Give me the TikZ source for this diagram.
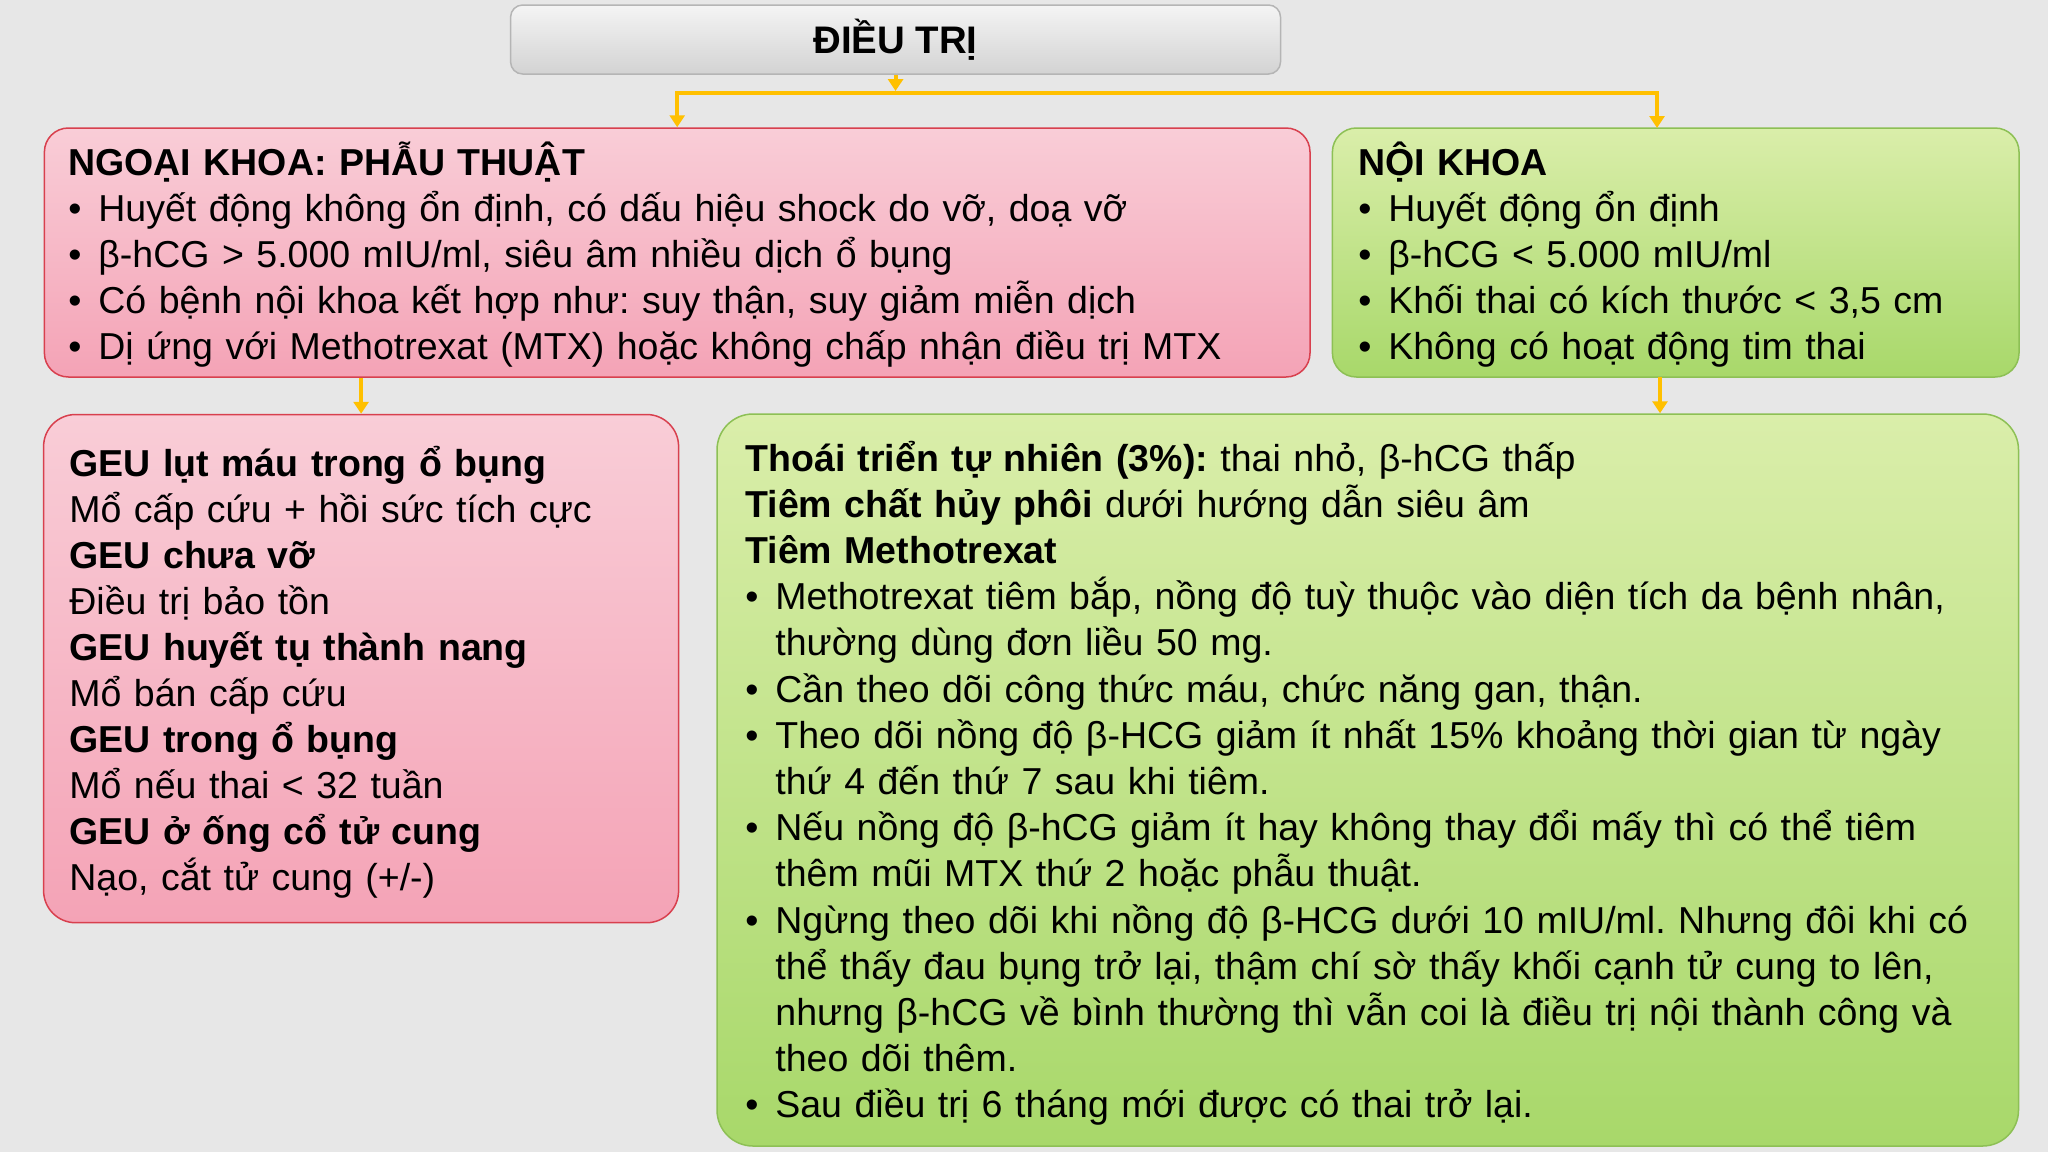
\documentclass[tikz,border=0pt]{standalone}
\usepackage{fontspec}
\setmainfont{Liberation Sans}
\usetikzlibrary{arrows.meta}
\definecolor{bgc}{HTML}{E7E7E7}
\definecolor{pinkT}{HTML}{F9CDD7}
\definecolor{pinkB}{HTML}{F4A3B6}
\definecolor{pinkD}{HTML}{D8404E}
\definecolor{grnT}{HTML}{DAEEAA}
\definecolor{grnB}{HTML}{A8D86A}
\definecolor{grnD}{HTML}{8DC055}
\definecolor{grayT}{HTML}{F4F4F4}
\definecolor{grayB}{HTML}{D3D3D3}
\definecolor{grayD}{HTML}{B5B5B5}
\definecolor{arr}{HTML}{FFC000}
\frenchspacing
\newcommand{\bul}{\makebox[15pt][l]{•}}
\newcommand{\cont}{\hspace*{15pt}}
\newcommand{\mytxtfont}{\fontsize{18.75}{23}\selectfont\frenchspacing\lineskiplimit=-100pt\relax\lineskip=0pt\relax}
\newcommand{\mytxtfontb}{\fontsize{18.75}{23.1}\selectfont\frenchspacing\lineskiplimit=-100pt\relax\lineskip=0pt\relax}
\newcommand{\mytitlefont}{\fontsize{19.2}{23}\selectfont\bfseries}
\begin{document}
\begin{tikzpicture}[x=0.5pt,y=-0.5pt,
  box/.style={rectangle, inner sep=0pt, line width=0.75pt},
  pinkbox/.style={box, draw=pinkD, top color=pinkT, bottom color=pinkB},
  grnbox/.style={box, draw=grnD, top color=grnT, bottom color=grnB},
  graybox/.style={box, draw=grayD, top color=grayT, bottom color=grayB, rounded corners=6pt},
  txt/.style={anchor=base west, inner sep=0pt, align=left, text width=#1, font=\mytxtfont},
  conn/.style={draw=arr, line width=2pt, -{Triangle[length=6pt,width=7.5pt]}},
]
\fill[bgc] (0,0) rectangle (2048,1152);
\useasboundingbox (0,0) rectangle (2048,1152);

% boxes
\node[graybox, minimum width=384.95pt, minimum height=34.5pt] (top) at (895.55,39.5) {};
\node[pinkbox, rounded corners=12pt, minimum width=632.8pt, minimum height=124.5pt] (ngoai) at (677.2,252.5) {};
\node[grnbox, rounded corners=12pt, minimum width=343.3pt, minimum height=124.5pt] (noi) at (1675.7,252.5) {};
\node[pinkbox, rounded corners=16pt, minimum width=317.5pt, minimum height=254.1pt] (geu) at (361.1,668.6) {};
\node[grnbox, rounded corners=18pt, minimum width=650.75pt, minimum height=366pt] (tiem) at (1367.75,780) {};

% title
\node[anchor=base, inner sep=0pt, font=\mytitlefont] (ttl) at (895.55,53.5) {ĐIỀU TRỊ};

% connectors
\coordinate (barM) at (895.55,92.5);
\coordinate (nTip) at (1657,128);
\coordinate (gdown) at (1660,377);
\draw[conn] (top.south) -- (895.55,91);
\draw[conn] (barM) -| (ngoai.north);
\draw[conn] (barM) -| (nTip);
\draw[conn] (geu.north |- ngoai.south) -- (geu.north);
\draw[conn] (gdown) -- (gdown |- tiem.north);

% texts
\node[txt=600pt] (t1) at (68,175) {\textbf{NGOẠI KHOA: PHẪU THUẬT}\\
\bul Huyết động không ổn định, có dấu hiệu shock do vỡ, doạ vỡ\\
\bul β-hCG > 5.000 mIU/ml, siêu âm nhiều dịch ổ bụng\\
\bul Có bệnh nội khoa kết hợp như: suy thận, suy giảm miễn dịch\\
\bul Dị ứng với Methotrexat (MTX) hoặc không chấp nhận điều trị MTX};

\node[txt=320pt] (t2) at (1358,175) {\textbf{NỘI KHOA}\\
\bul Huyết động ổn định\\
\bul β-hCG < 5.000 mIU/ml\\
\bul Khối thai có kích thước < 3,5 cm\\
\bul Không có hoạt động tim thai};

\node[txt=300pt] (t3) at (69,476) {\textbf{GEU lụt máu trong ổ bụng}\\
Mổ cấp cứu + hồi sức tích cực\\
\textbf{GEU chưa vỡ}\\
Điều trị bảo tồn\\
\textbf{GEU huyết tụ thành nang}\\
Mổ bán cấp cứu\\
\textbf{GEU trong ổ bụng}\\
Mổ nếu thai < 32 tuần\\
\textbf{GEU ở ống cổ tử cung}\\
Nạo, cắt tử cung (+/-)};

\node[txt=630pt, font=\mytxtfontb] (t4) at (745,471) {\textbf{Thoái triển tự nhiên (3\%):} thai nhỏ, β-hCG thấp\\
\textbf{Tiêm chất hủy phôi} dưới hướng dẫn siêu âm\\
\textbf{Tiêm Methotrexat}\\
\bul Methotrexat tiêm bắp, nồng độ tuỳ thuộc vào diện tích da bệnh nhân,\\
\cont thường dùng đơn liều 50 mg.\\
\bul Cần theo dõi công thức máu, chức năng gan, thận.\\
\bul Theo dõi nồng độ β-HCG giảm ít nhất 15\% khoảng thời gian từ ngày\\
\cont thứ 4 đến thứ 7 sau khi tiêm.\\
\bul Nếu nồng độ β-hCG giảm ít hay không thay đổi mấy thì có thể tiêm\\
\cont thêm mũi MTX thứ 2 hoặc phẫu thuật.\\
\bul Ngừng theo dõi khi nồng độ β-HCG dưới 10 mIU/ml. Nhưng đôi khi có\\
\cont thể thấy đau bụng trở lại, thậm chí sờ thấy khối cạnh tử cung to lên,\\
\cont nhưng β-hCG về bình thường thì vẫn coi là điều trị nội thành công và\\
\cont theo dõi thêm.\\
\bul Sau điều trị 6 tháng mới được có thai trở lại.};
\end{tikzpicture}
\end{document}
